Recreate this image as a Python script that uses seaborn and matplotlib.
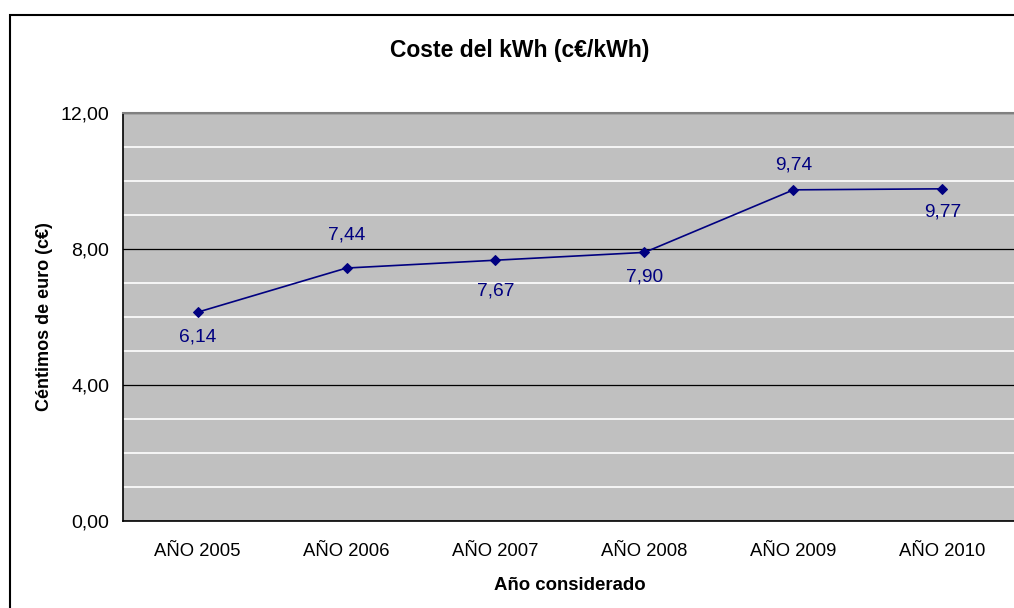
import matplotlib
matplotlib.use("Agg")
import matplotlib.pyplot as plt
import seaborn as sns
import pandas as pd
import numpy as np
from matplotlib.patches import Rectangle
from matplotlib.ticker import MultipleLocator, FixedLocator, FuncFormatter

categories = ["AÑO 2005", "AÑO 2006", "AÑO 2007", "AÑO 2008", "AÑO 2009", "AÑO 2010"]
values = [6.14, 7.44, 7.67, 7.90, 9.74, 9.77]
label_offsets = [-18, 24, -22, -18, 18, -17]
yticks = [0, 4, 8, 12]

sns.set_theme(style="white")
plt.rcParams['font.family'] = ['Liberation Sans', 'DejaVu Sans']

fig = plt.figure(figsize=(10.14, 6.08), dpi=100)
ax = fig.add_axes([123/1014, 87/608, (1017-123)/1014, (521-113)/608])
ax.set_facecolor("#C0C0C0")

df = pd.DataFrame({"x": np.arange(len(categories)), "y": values})
sns.lineplot(data=df, x="x", y="y", ax=ax, color="#000080", linewidth=1.2,
             marker="D", markersize=5.5, markeredgecolor="#000080", zorder=5)

for i, (v, off) in enumerate(zip(values, label_offsets)):
    ax.annotate(f"{v:.2f}".replace(".", ","), (i, v), xytext=(0, off),
                textcoords="offset points", ha="center", va="center",
                color="#000080", fontsize=13.8)

ax.set_xlim(-0.5, len(categories) - 0.5)
ax.set_ylim(0, 12)
ax.yaxis.set_major_locator(FixedLocator(yticks))
ax.yaxis.set_minor_locator(MultipleLocator(1))
ax.yaxis.set_major_formatter(FuncFormatter(lambda v, p: f"{v:.2f}".replace(".", ",")))
ax.grid(which="minor", axis="y", color="white", linewidth=1.2)
ax.grid(which="major", axis="y", color="black", linewidth=0.9)
ax.set_axisbelow(True)

ax.set_xticks(np.arange(-0.5, len(categories)))
ax.set_xticklabels([])
ax.set_xticks(np.arange(len(categories)), minor=True)
ax.set_xticklabels(categories, minor=True)
ax.tick_params(axis="x", which="major", direction="out", length=6, width=1, color="black")
ax.tick_params(axis="x", which="minor", length=0, pad=16, labelsize=13.3, labelcolor="black")
ax.tick_params(axis="y", which="major", direction="out", length=6, width=1, color="black",
               labelsize=14, labelcolor="black", pad=4)
ax.tick_params(axis="y", which="minor", length=0)

for s in ["left", "bottom"]:
    ax.spines[s].set_color("black")
    ax.spines[s].set_linewidth(1.2)
for s in ["top", "right"]:
    ax.spines[s].set_color("#808080")
    ax.spines[s].set_linewidth(1.5)

ax.set_xlabel("Año considerado", fontsize=13.4, fontweight="bold", color="black", labelpad=12)
ax.set_ylabel("Céntimos de euro (c€)", fontsize=13, fontweight="bold", color="black", labelpad=5)
fig.text(520/1014, 1 - 50/608, "Coste del kWh (c€/kWh)", ha="center", va="center",
         fontsize=16.5, fontweight="bold", color="black")

fig.patches.append(Rectangle((10/1014, -0.2), 1.2, 1 - 15/608 + 0.2, transform=fig.transFigure,
                             fill=False, edgecolor="black", linewidth=1.5, zorder=10))

fig.savefig("out.png", dpi=100)
